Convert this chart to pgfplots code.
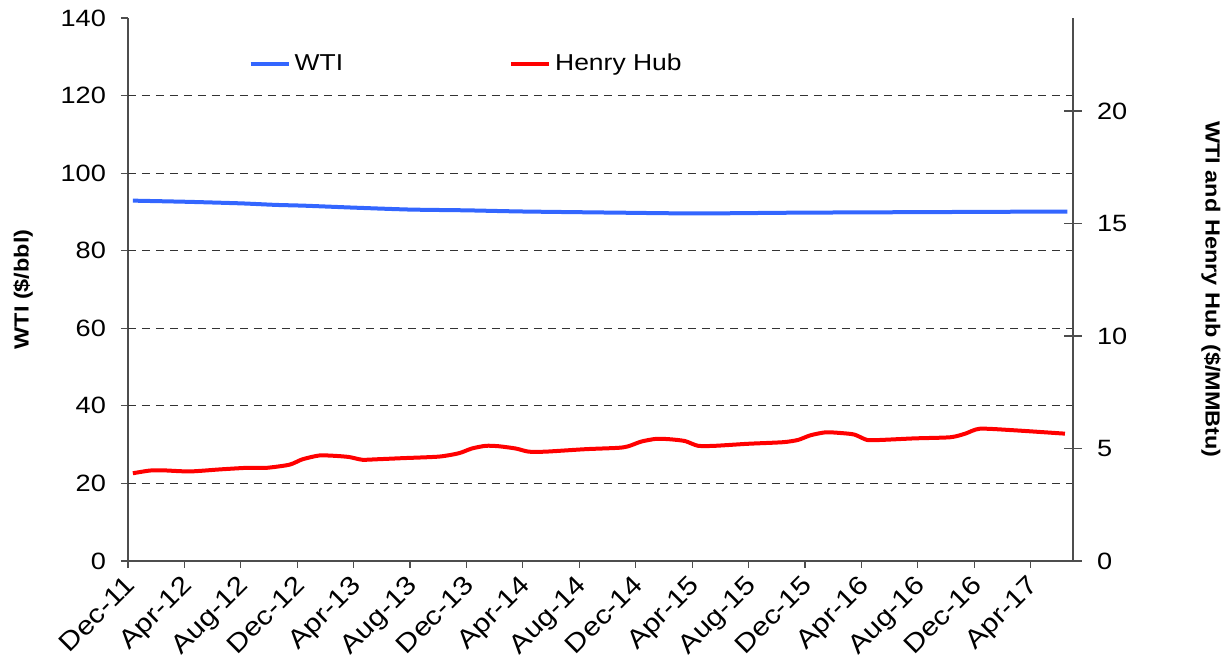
\documentclass[border=0pt]{standalone}
\usepackage{fontspec}
\setmainfont{Liberation Sans}[FakeStretch=1.15]
\usepackage{pgfplots}
\pgfplotsset{compat=1.18}
\definecolor{wti}{HTML}{3366FF}
\definecolor{hh}{HTML}{FF0000}
\definecolor{axisgray}{HTML}{4D4D4D}

% WTI, $/bbl (months after Dec-11)
\pgfplotstableread{
m v
0.35 92.9
4.2 92.6
8 92.2
10.5 91.8
12.5 91.6
16 91.1
20 90.6
24 90.4
28 90.1
34.8 89.8
40.4 89.6
47.5 89.8
57 89.95
66.6 90.1
}\wti

% Henry Hub, $/MMBtu
\pgfplotstableread{
m v
0.35 3.90
1.55 4.02
2.47 4.03
4.38 3.98
6.5 4.07
8.41 4.14
9.82 4.14
11.45 4.28
12.37 4.52
13.57 4.69
14.77 4.67
15.69 4.62
16.61 4.50
17.6 4.52
19.43 4.57
22.05 4.64
23.46 4.79
24.38 5.00
25.37 5.12
26.29 5.10
27.49 5.00
28.41 4.86
29.61 4.86
32.44 4.97
34.77 5.03
35.48 5.10
36.4 5.31
37.46 5.43
38.45 5.41
39.5 5.33
40.42 5.12
41.63 5.12
43.96 5.21
46.43 5.28
47.5 5.38
48.4 5.59
49.47 5.72
50.5 5.69
51.5 5.62
52.4 5.38
53.36 5.38
55.76 5.45
58.3 5.50
59.36 5.66
60.4 5.88
62.83 5.81
66.43 5.66
}\hh

\begin{document}
\begin{tikzpicture}
\pgfplotsset{every axis/.append style={
  width=472.5pt, height=271.5pt, scale only axis,
  xmin=0, xmax=67,
  axis line style={axisgray, line width=0.8pt, -},
  tick style={axisgray, line width=0.6pt},
  tick label style={font=\fontsize{11.8}{13}\selectfont},
  label style={font=\bfseries\fontsize{10.2}{12}\selectfont},
  /pgf/number format/assume math mode=true}}
\begin{axis}[
  ymin=0, ymax=140,
  axis x line*=bottom, axis y line*=left,
  ytick={0,20,...,140},
  extra y ticks={20,40,...,120}, extra y tick labels={},
  extra y tick style={grid=major},
  grid style={dash pattern=on 4pt off 3pt, black!80, line width=0.6pt},
  yticklabel style={xshift=-4pt},
  xtick={0,4,...,64},
  xticklabels={Dec-11,Apr-12,Aug-12,Dec-12,Apr-13,Aug-13,Dec-13,Apr-14,Aug-14,Dec-14,Apr-15,Aug-15,Dec-15,Apr-16,Aug-16,Dec-16,Apr-17},
  x tick label style={rotate=45, anchor=north east, inner sep=0.5pt, xshift=-3pt, font=\fontsize{13}{14}\selectfont},
  tick align=outside, major tick length=3.5pt,
  ylabel={WTI (\$/bbl)},
  ylabel style={at={(rel axis cs:-0.111,0.5)}, anchor=center},
  legend style={at={(rel axis cs:0.121,0.915)}, anchor=west, draw=none, fill=none,
    legend columns=2, font=\fontsize{11.5}{13}\selectfont,
    /tikz/every even column/.append style={column sep=81pt}},
  legend image code/.code={\draw[#1] (0pt,0pt) -- (19pt,0pt);},
]
\coordinate (bl) at (rel axis cs:-0.1354,-0.175);
\coordinate (tr) at (rel axis cs:1.1672,1.0331);
\addplot[wti, line width=2pt, smooth, tension=0.4, line join=round] table[x=m,y=v] {\wti};
\addlegendentry{WTI}
\addlegendimage{hh, line width=2pt}
\addlegendentry{Henry Hub}
\end{axis}
\begin{axis}[
  ymin=0, ymax=24.14,
  axis x line=none, axis y line*=right,
  ytick={0,5,...,20},
  tick align=center, major tick length=9pt,
  yticklabel style={xshift=4pt},
  ylabel={WTI and Henry Hub (\$/MMBtu)},
  ylabel style={at={(rel axis cs:1.146,0.5)}, rotate=180, anchor=center},
]
\addplot[hh, line width=2pt, smooth, tension=0.4, line join=round] table[x=m,y=v] {\hh};
\end{axis}
\useasboundingbox (bl) rectangle (tr);
\end{tikzpicture}
\end{document}
